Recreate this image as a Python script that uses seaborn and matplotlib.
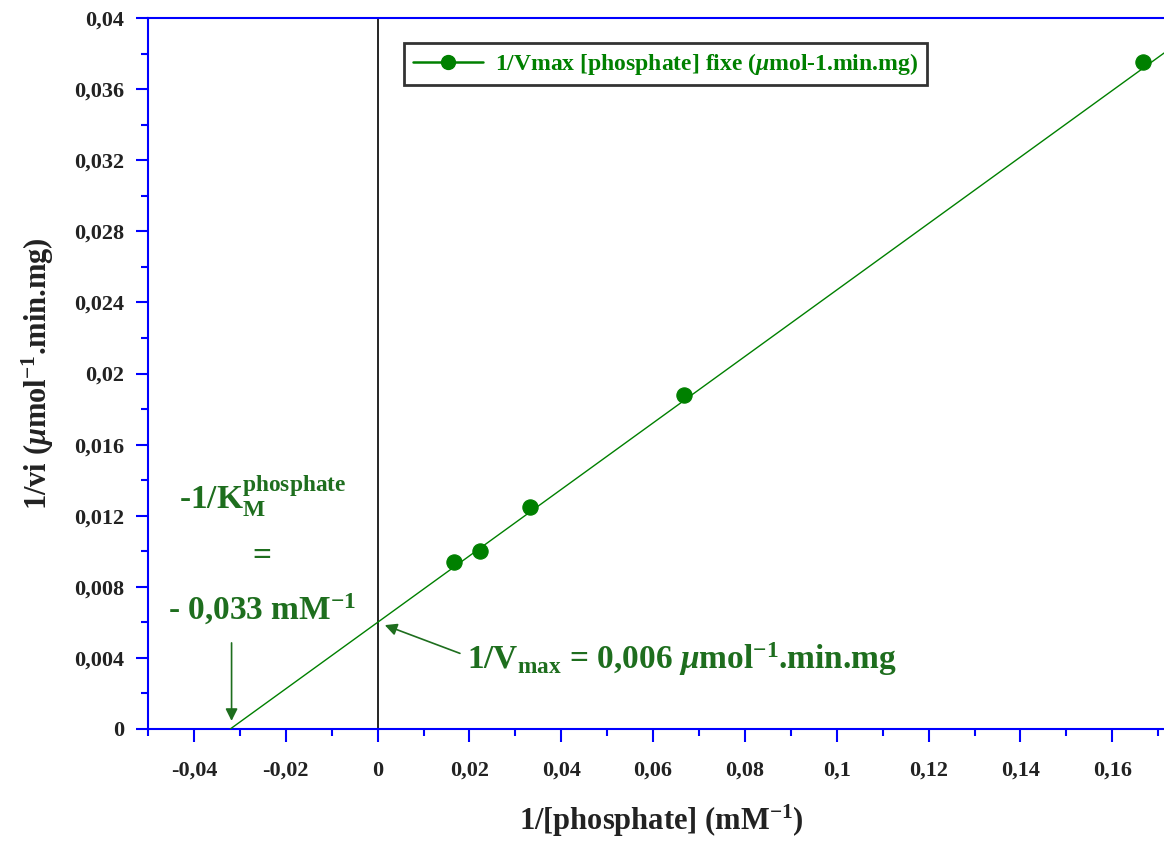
import numpy as np
import pandas as pd
import matplotlib
matplotlib.use("Agg")
import matplotlib.pyplot as plt
from matplotlib.lines import Line2D
from matplotlib.ticker import MultipleLocator, FuncFormatter
import seaborn as sns

# data
inv_phosphate = [0.0167, 0.0222, 0.0333, 0.0667, 0.1667]
inv_vi = [0.0094, 0.0100, 0.0125, 0.0188, 0.0375]
fit_intercept = 0.006
fit_slope = 0.187
fit_x = [-0.0321, 0.175]
series_label = "1/Vmax [phosphate] fixe ($\\mathit{\\mu}$mol-1.min.mg)"

sns.set_theme(style="white")
plt.rcParams['font.family'] = ['Liberation Serif', 'DejaVu Serif']
plt.rcParams['font.weight'] = 'bold'
plt.rcParams['mathtext.fontset'] = 'custom'
plt.rcParams['mathtext.rm'] = 'Liberation Serif:bold'
plt.rcParams['mathtext.it'] = 'Liberation Serif:italic:bold'
plt.rcParams['mathtext.bf'] = 'Liberation Serif:bold'

fig = plt.figure(figsize=(11.64, 8.41), dpi=100)
ax = fig.add_axes([148/1164, 1-729/841, 1-148/1164 + 0.01, (729-18)/841])

green = '#008000'
dark = '#1e6e1e'

fx = np.array(fit_x)
fit_df = pd.DataFrame({'x': fx, 'y': fit_intercept + fit_slope*fx})
sns.lineplot(data=fit_df, x='x', y='y', ax=ax, color=green, lw=1.0, zorder=3)
df = pd.DataFrame({'x': inv_phosphate, 'y': inv_vi})
sns.scatterplot(data=df, x='x', y='y', ax=ax, color=green, s=120, edgecolor=green, zorder=4, legend=False)

ax.axvline(0, color='black', lw=1.2, zorder=2)

ax.set_xlim(-0.05, 0.1738)
ax.set_ylim(0, 0.04)

ax.xaxis.set_major_locator(MultipleLocator(0.02))
ax.xaxis.set_minor_locator(MultipleLocator(0.01))
ax.yaxis.set_major_locator(MultipleLocator(0.004))
ax.yaxis.set_minor_locator(MultipleLocator(0.002))

def fmt(v, pos):
    if abs(v) < 1e-12:
        return '0'
    s = ('%.3f' % v).rstrip('0').rstrip('.')
    return s.replace('.', ',')
ax.xaxis.set_major_formatter(FuncFormatter(fmt))
ax.yaxis.set_major_formatter(FuncFormatter(fmt))

for side in ['left', 'bottom', 'top']:
    ax.spines[side].set_color('blue')
    ax.spines[side].set_linewidth(1.5)
ax.spines['right'].set_visible(False)

ax.tick_params(axis='both', which='major', direction='out', length=9, width=1.5, color='blue',
               labelsize=16, pad=6, bottom=True, left=True, labelcolor='#222222')
ax.tick_params(axis='both', which='minor', direction='out', length=5, width=1.5, color='blue',
               bottom=True, left=True)
for lab in ax.get_xticklabels() + ax.get_yticklabels():
    lab.set_fontweight('bold')
ax.tick_params(axis='x', pad=14)
ax.tick_params(axis='y', pad=8)

ax.set_xlabel('1/[phosphate] (mM$^{-1}$)', fontsize=22, fontweight='bold', color='#222222')
ax.set_ylabel('1/vi ($\\mathit{\\mu}$mol$^{-1}$.min.mg)', fontsize=22, fontweight='bold', color='#222222')
ax.xaxis.set_label_coords((656-148)/1016, -0.104)
ax.yaxis.set_label_coords(-0.09, 0.5)

handle = Line2D([], [], color=green, lw=1.8, marker='o', markersize=10)
leg = ax.legend([handle], [series_label], loc='upper left', bbox_to_anchor=(0.238, 0.982),
                frameon=True, fancybox=False, handlelength=3, borderpad=0.35, handletextpad=0.5,
                prop={'family': 'Liberation Serif', 'weight': 'bold', 'size': 17})
leg.get_frame().set_edgecolor('black')
leg.get_frame().set_linewidth(2)
for t in leg.get_texts():
    t.set_color(green)

ax.text(-0.0251, 0.0118, r'-1/K$_{\mathrm{M}}^{\mathrm{phosphate}}$', color=dark, fontsize=24,
        fontweight='bold', ha='center', va='bottom')
ax.text(-0.0251, 0.0097, '=', color=dark, fontsize=24, fontweight='bold', ha='center', va='center')
ax.text(-0.0251, 0.0067, r'- 0,033 mM$^{-1}$', color=dark, fontsize=24, fontweight='bold',
        ha='center', va='center')
ax.annotate('', xy=(-0.0318, 0.0003), xytext=(-0.0318, 0.005),
            arrowprops=dict(arrowstyle='-|>', color=dark, lw=1.2, mutation_scale=18))
ax.text(0.0195, 0.0039, r'1/V$_{\mathrm{max}}$ = 0,006 $\mathit{\mu}$mol$^{-1}$.min.mg', color=dark, fontsize=24,
        fontweight='bold', ha='left', va='center')
ax.annotate('', xy=(0.001, 0.0059), xytext=(0.0185, 0.0042),
            arrowprops=dict(arrowstyle='-|>', color=dark, lw=1.2, mutation_scale=18))

fig.savefig('out.png', dpi=100)
